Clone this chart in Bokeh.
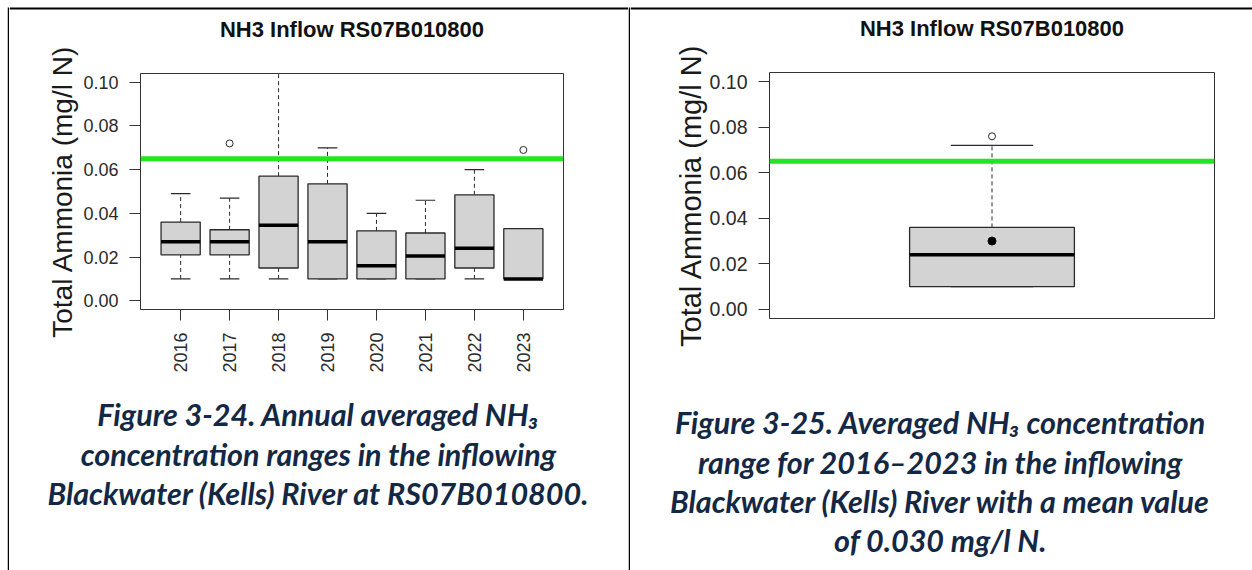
import math
from bokeh.plotting import figure
from bokeh.models import Range1d, FixedTicker, NumeralTickFormatter, Span
from bokeh.layouts import row, column
from bokeh.embed import file_html
from bokeh.resources import INLINE
from bokeh.core.properties import value

# ---------------- data ----------------
years = ["2016", "2017", "2018", "2019", "2020", "2021", "2022", "2023"]
low_whisker = [0.010, 0.010, 0.010, 0.010, 0.010, 0.010, 0.010, 0.010]
q1 = [0.021, 0.021, 0.015, 0.010, 0.010, 0.010, 0.015, 0.010]
median = [0.027, 0.027, 0.0345, 0.027, 0.016, 0.0205, 0.024, 0.010]
q3 = [0.036, 0.0325, 0.057, 0.0535, 0.032, 0.031, 0.0485, 0.033]
high_whisker = [0.049, 0.047, 0.125, 0.070, 0.040, 0.046, 0.060, 0.033]
outlier_years = ["2017", "2023"]
outlier_values = [0.072, 0.069]

all_low = [0.010]
all_q1 = [0.010]
all_median = [0.024]
all_q3 = [0.036]
all_high = [0.072]
all_outliers = [0.076]
all_mean = [0.030]

guideline = 0.065
y_ticks = [0.00, 0.02, 0.04, 0.06, 0.08, 0.10]
chart_title = "NH3 Inflow RS07B010800"
y_label = "Total Ammonia (mg/l N)"

caption_left = ["Figure 3-24. Annual averaged NH\u2083",
                "concentration ranges in the inflowing",
                "Blackwater (Kells) River at RS07B010800."]
caption_right = ["Figure 3-25. Averaged NH\u2083 concentration",
                 "range for 2016\u20132023 in the inflowing",
                 "Blackwater (Kells) River with a mean value",
                 "of 0.030 mg/l N."]

# ---------------- styles ----------------
FONT = "Liberation Sans"
BOX_FILL = "#D3D3D3"
EDGE = "#2a2a2a"
GREEN = "#22E622"
CAP_COLOR = "#132845"


def plain(width, height, xr, yr):
    f = figure(width=width, height=height, x_range=Range1d(*xr), y_range=Range1d(*yr),
               x_axis_type=None, y_axis_type=None, output_backend="svg", toolbar_location=None,
               min_border=0, frame_align=False)
    f.outline_line_color = None
    f.grid.visible = False
    f.background_fill_color = "white"
    f.border_fill_color = "white"
    return f


def base_chart(width, height, left, right, top, bottom, x_range, tick_size, label_size, label_standoff):
    p = figure(width=width, height=height, x_range=x_range, y_range=Range1d(-0.004, 0.104),
               output_backend="svg", toolbar_location=None, frame_align=False,
               min_border_left=left, min_border_right=right,
               min_border_top=top, min_border_bottom=bottom)
    p.background_fill_color = "white"
    p.border_fill_color = "white"
    p.outline_line_color = "#333333"
    p.outline_line_width = 1
    p.xgrid.visible = False
    p.ygrid.visible = False
    ax = p.yaxis[0]
    ax.ticker = FixedTicker(ticks=y_ticks)
    ax.formatter = NumeralTickFormatter(format="0.00")
    ax.axis_line_color = None
    ax.major_tick_in = 0
    ax.major_tick_out = 11
    ax.major_tick_line_color = "#333333"
    ax.minor_tick_line_color = None
    ax.major_label_standoff = 11
    ax.major_label_text_font = FONT
    ax.major_label_text_font_size = tick_size
    ax.major_label_text_color = "#2a2a2a"
    ax.axis_label = y_label
    ax.axis_label_text_font = FONT
    ax.axis_label_text_font_style = "normal"
    ax.axis_label_text_font_size = label_size
    ax.axis_label_text_color = "#1a1a1a"
    ax.axis_label_standoff = label_standoff
    p.add_layout(Span(location=guideline, dimension="width", line_color=GREEN, line_width=5))
    return p


def draw_boxes(p, xs, lo, b1, med, b3, hi, box_w):
    half = box_w / 2.0
    cap = box_w / 4.0
    p.segment(x0=xs, y0=b3, x1=xs, y1=hi, line_color=EDGE, line_width=1, line_dash="4 3")
    p.segment(x0=xs, y0=lo, x1=xs, y1=b1, line_color=EDGE, line_width=1, line_dash="4 3")
    p.segment(x0=[x - cap for x in xs], y0=hi, x1=[x + cap for x in xs], y1=hi, line_color=EDGE, line_width=1.2)
    p.segment(x0=[x - cap for x in xs], y0=lo, x1=[x + cap for x in xs], y1=lo, line_color=EDGE, line_width=1.2)
    p.vbar(x=xs, width=box_w, bottom=b1, top=b3, fill_color=BOX_FILL, line_color=EDGE, line_width=1.3)
    p.segment(x0=[x - half for x in xs], y0=med, x1=[x + half for x in xs], y1=med, line_color="black", line_width=3.5)


# ---------------- headers (table rule + chart titles) ----------------
def header_fig(width, height, title_x, title_y_from_top):
    h = plain(width, height, (0, width), (0, height))
    h.quad(left=[0], right=[width], bottom=[height - 9], top=[height - 7],
           fill_color="black", line_color=None)
    h.text(x=[title_x], y=[height - title_y_from_top], text=[chart_title], text_align="center",
           text_baseline="middle", text_font=value(FONT), text_font_style="bold",
           text_font_size="22px", text_color="#111111")
    return h


left_header = header_fig(619, 42, 342.5, 28.5)
right_header = header_fig(622, 41, 361.5, 27.5)

# ---------------- left chart ----------------
positions = [i + 1 for i in range(len(years))]
left_chart = base_chart(619, 338, 131, 65, 31, 71, Range1d(0.18, 8.82), "18px", "28px", 2)
draw_boxes(left_chart, positions, low_whisker, q1, median, q3, high_whisker, 0.8)
out_x = [positions[years.index(y)] for y in outlier_years]
left_chart.scatter(x=out_x, y=outlier_values, marker="circle", size=7, fill_color="white",
                   line_color=EDGE, line_width=1)
xa = left_chart.xaxis[0]
xa.ticker = FixedTicker(ticks=positions)
xa.major_label_overrides = {pos: yr for pos, yr in zip(positions, years)}
xa.major_label_orientation = math.pi / 2
xa.axis_line_color = None
xa.major_tick_in = 0
xa.major_tick_out = 11
xa.major_tick_line_color = "#333333"
xa.minor_tick_line_color = None
xa.major_label_standoff = 12
xa.major_label_text_font = FONT
xa.major_label_text_font_size = "18px"
xa.major_label_text_color = "#2a2a2a"

# ---------------- right chart ----------------
right_chart = base_chart(622, 339, 139, 38, 31, 62, Range1d(0.46, 1.54), "19.5px", "29px", 0)
draw_boxes(right_chart, [1], all_low, all_q1, all_median, all_q3, all_high, 0.4)
right_chart.scatter(x=[1] * len(all_outliers), y=all_outliers, marker="circle", size=7,
                    fill_color="white", line_color=EDGE, line_width=1)
right_chart.scatter(x=[1], y=all_mean, marker="circle", size=8, fill_color="black", line_color="black")
right_chart.xaxis.visible = False


# ---------------- captions ----------------
def caption_fig(width, lines, ys, xc):
    c = plain(width, 190, (0, width), (0, 190))
    c.text(x=[xc] * len(lines), y=ys, text=lines, text_align="center", text_baseline="middle",
           text_font=value("Lato"), text_font_style="bold italic", text_font_size="30.5px",
           text_color=CAP_COLOR)
    return c


left_caption = caption_fig(619, caption_left, [157, 117, 78], 309)
right_caption = caption_fig(622, caption_right, [149, 109, 70, 31], 310)


def rule_fig(width, height, color, start_from_top):
    r = plain(width, height, (0, width), (0, height))
    if color != "white":
        r.quad(left=[0], right=[width], bottom=[0], top=[height - start_from_top],
               fill_color=color, line_color=None)
    return r


layout = row(rule_fig(7, 570, "white", 0),
             rule_fig(2, 570, "black", 7),
             column(left_header, left_chart, left_caption),
             rule_fig(2, 570, "black", 7),
             column(right_header, right_chart, right_caption))

open("out.html", "w").write(file_html(layout, INLINE))
